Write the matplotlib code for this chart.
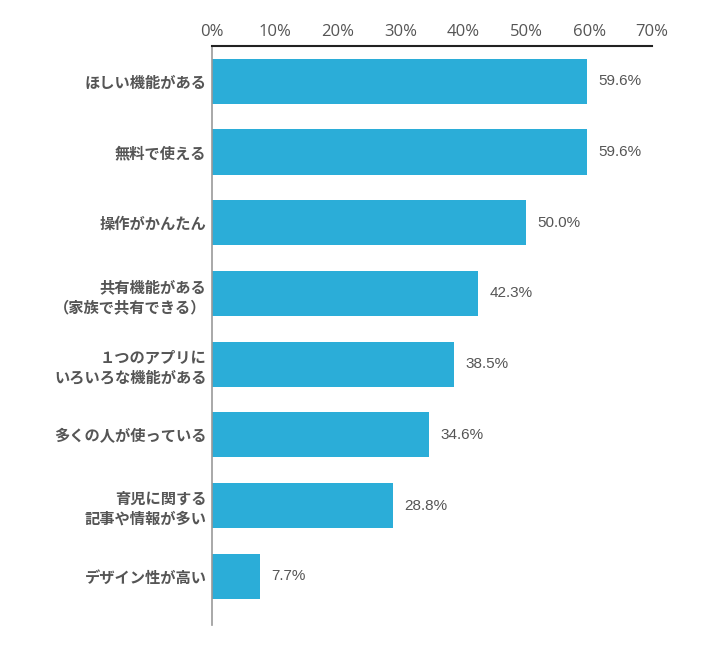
import matplotlib
matplotlib.use("Agg")
import matplotlib.pyplot as plt

plt.rcParams['font.family'] = ['Noto Sans CJK JP', 'DejaVu Sans']

categories = ["ほしい機能がある", "無料で使える", "操作がかんたん",
              "共有機能がある\n（家族で共有できる）", "１つのアプリに\nいろいろな機能がある",
              "多くの人が使っている", "育児に関する\n記事や情報が多い", "デザイン性が高い"]
values = [59.6, 59.6, 50.0, 42.3, 38.5, 34.6, 28.8, 7.7]
xticks = [0, 10, 20, 30, 40, 50, 60, 70]
xticklabels = ["0%", "10%", "20%", "30%", "40%", "50%", "60%", "70%"]

fig = plt.figure(figsize=(7.1, 6.5), dpi=100)
ax = fig.add_axes([212/710, 1-625/650, 440/710, (625-46)/650])

ypos = list(range(len(categories)))
ax.barh(ypos, values, height=0.64, color="#2badd8")
ax.set_xlim(0, 70)
ax.set_ylim(7.69, -0.5)

ax.xaxis.tick_top()
ax.set_xticks(xticks)
ax.set_xticklabels(xticklabels, fontsize=12, color="#555555", family=['Open Sans', 'DejaVu Sans'])
ax.tick_params(axis='x', length=0, pad=4)
ax.set_yticks(ypos)
ax.set_yticklabels(categories, fontsize=11, color="#555555", fontweight='bold', linespacing=1.3)
ax.tick_params(axis='y', length=0, pad=4)

for s in ['right', 'bottom']:
    ax.spines[s].set_visible(False)
ax.spines['top'].set_color("#222222")
ax.spines['top'].set_linewidth(1.5)
ax.spines['left'].set_color("#999999")
ax.spines['left'].set_linewidth(1.2)

for y, v in zip(ypos, values):
    ax.text(v + 1.8, y, f"{v:.1f}%", va='center', ha='left', fontsize=11,
            color="#555555", family=['Liberation Sans', 'DejaVu Sans'])

fig.savefig("out.png", dpi=100)
